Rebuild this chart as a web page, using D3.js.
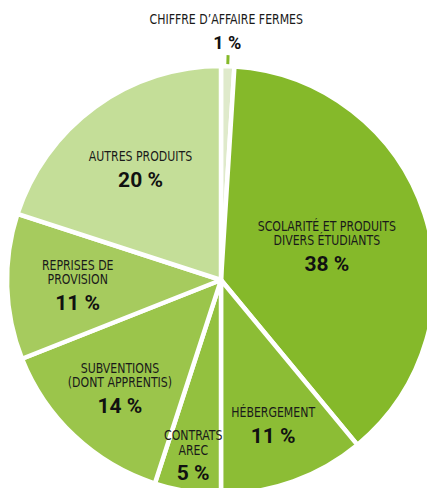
<!DOCTYPE html>
<html>
<head>
<meta charset="utf-8">
<script src="https://cdn.jsdelivr.net/npm/d3@7"></script>
<style>
  body { margin: 0; background: #fff; }
  .lbl { font-family: "Liberation Sans Narrow", "DejaVu Sans Condensed", sans-serif; font-size: 14px; fill: #1a1a1a; }
  .pct { font-family: Roboto, "DejaVu Sans", sans-serif; font-weight: 700; font-size: 21px; fill: #111; }
</style>
</head>
<body>
<script>
/* Ressources (parts en %) */
var categories = ["Chiffre d’affaire fermes", "Scolarité et produits divers étudiants", "Hébergement",
                  "Contrats AREC", "Subventions (dont apprentis)", "Reprises de provision", "Autres produits"];
var labelLines = [["CHIFFRE D’AFFAIRE FERMES"], ["SCOLARITÉ ET PRODUITS", "DIVERS ÉTUDIANTS"], ["HÉBERGEMENT"],
                  ["CONTRATS", "AREC"], ["SUBVENTIONS", "(DONT APPRENTIS)"], ["REPRISES DE", "PROVISION"], ["AUTRES PRODUITS"]];
var values = [1, 38, 11, 5, 14, 11, 20];

/* layout */
var width = 427, height = 488;
var cx = 221, cy = 280, radius = 214;
var sliceColors = ["#dfeacb", "#85b92a", "#8cbd35", "#93c13f", "#9bc54b", "#a6cb5e", "#c4de98"];
// label distance from centre, as fraction of radius (null = outside label)
var labelRadius = [null, 0.52, 0.72, 0.83, 0.69, 0.67, 0.64];
var narrow = 0.87; // squeeze the label font, the original is a condensed face

var svg = d3.select("body").append("svg")
    .attr("width", width)
    .attr("height", height);

var color = d3.scaleOrdinal().domain(categories).range(sliceColors);

var pie = d3.pie().sort(null).value(function(d) { return d; });
var arcs = pie(values);

var arc = d3.arc().innerRadius(0).outerRadius(radius);

var g = svg.append("g").attr("transform", "translate(" + cx + "," + cy + ")");

g.selectAll("path.slice")
    .data(arcs)
    .enter()
    .append("path")
    .attr("class", "slice")
    .attr("d", arc)
    .attr("fill", function(d, i) { return color(categories[i]); })
    .attr("stroke", "#fff")
    .attr("stroke-width", 4.5)
    .attr("stroke-linejoin", "round");

function polar(a, r) { return [Math.sin(a) * r, -Math.cos(a) * r]; }

function addLabel(x, y, t) {
    g.append("text").attr("class", "lbl")
        .attr("transform", "translate(" + x + "," + y + ") scale(" + narrow + ",1)")
        .attr("text-anchor", "middle")
        .text(t);
}

var lineGap = 14.5, pctGap = 25.5;

arcs.forEach(function(d, i) {
    var mid = (d.startAngle + d.endAngle) / 2;
    var lines = labelLines[i];
    var pctText = values[i] + " %";

    if (labelRadius[i] === null) {
        // small slice: label outside with a tick
        var p0 = polar(mid, radius + 2), p1 = polar(mid, radius + 11);
        g.append("line")
            .attr("x1", p0[0]).attr("y1", p0[1])
            .attr("x2", p1[0]).attr("y2", p1[1])
            .attr("stroke", "#85b92a")
            .attr("stroke-width", 3);
        var pp = polar(mid, radius + 17);
        g.append("text").attr("class", "pct")
            .attr("x", pp[0] - 1).attr("y", pp[1])
            .attr("text-anchor", "middle")
            .style("font-size", "18px")
            .text(pctText);
        addLabel(pp[0] - 2, pp[1] - 25, lines[0]);
        return;
    }

    var c = polar(mid, labelRadius[i] * radius);
    var h = 10 + (lines.length - 1) * lineGap + pctGap;
    var b1 = c[1] - h / 2 + 10;

    lines.forEach(function(t, k) {
        addLabel(c[0], b1 + k * lineGap, t);
    });
    g.append("text").attr("class", "pct")
        .attr("x", c[0]).attr("y", b1 + (lines.length - 1) * lineGap + pctGap)
        .attr("text-anchor", "middle")
        .text(pctText);
});
</script>
</body>
</html>
